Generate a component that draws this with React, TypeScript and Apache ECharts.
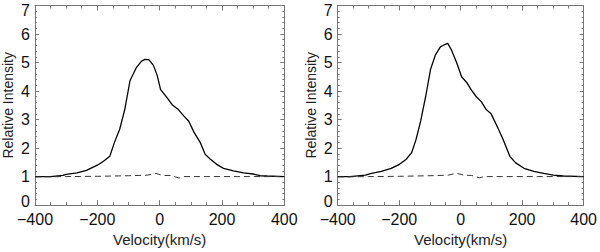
import React, { useEffect, useRef } from "react";
import * as echarts from "echarts";

const xTicks = [-400, -200, 0, 200, 400];
const yTicks = [0, 1, 2, 3, 4, 5, 6, 7];

const leftSolidV = [-400, -350, -310, -300, -265, -235, -200, -180, -160, -145, -128, -112, -95, -75, -58, -47, -35, -20, -8, 3, 20, 40, 60, 78, 93, 110, 130, 146, 162, 183, 205, 237, 269, 301, 323, 345, 400];
const leftSolidI = [1.0, 1.0, 1.04, 1.08, 1.13, 1.22, 1.4, 1.54, 1.71, 2.2, 2.67, 3.35, 4.37, 4.82, 5.05, 5.11, 5.1, 4.9, 4.55, 4.05, 3.82, 3.52, 3.35, 3.12, 2.95, 2.56, 2.2, 1.78, 1.62, 1.43, 1.29, 1.2, 1.13, 1.09, 1.03, 1.02, 1.0];

const leftDashV = [-400, -300, -200, -100, -40, -12, 10, 35, 62, 78, 150, 250, 400];
const leftDashI = [0.99, 1.0, 1.01, 1.03, 1.05, 1.11, 1.04, 1.04, 0.95, 1.0, 1.0, 1.0, 1.0];

const rightSolidV = [-400, -360, -310, -290, -258, -226, -199, -178, -160, -146, -130, -114, -98, -82, -66, -50, -42, -30, -13, 3, 19, 35, 51, 67, 83, 99, 120, 137, 160, 179, 206, 238, 270, 302, 334, 400];
const rightSolidI = [1.0, 1.0, 1.05, 1.11, 1.18, 1.29, 1.43, 1.6, 1.83, 2.27, 2.95, 3.8, 4.76, 5.27, 5.55, 5.64, 5.67, 5.44, 4.99, 4.5, 4.31, 4.03, 3.8, 3.63, 3.35, 3.2, 2.73, 2.33, 1.71, 1.48, 1.29, 1.18, 1.11, 1.05, 1.02, 1.0];

const rightDashV = [-400, -300, -200, -100, -40, -14, 10, 35, 61, 78, 150, 250, 400];
const rightDashI = [0.99, 1.0, 1.01, 1.03, 1.05, 1.12, 1.05, 1.04, 0.96, 1.0, 1.0, 1.0, 1.0];

const xTitle = "Velocity(km/s)";
const yTitle = "Relative Intensity";

const FONT = "Liberation Sans";
const FRAME = "#777";

const zip = (a: number[], b: number[]) => a.map((v, i) => [v, b[i]]);

function makeAxes(gi: number) {
  const xBase = {
    type: "value",
    gridIndex: gi,
    min: xTicks[0],
    max: xTicks[xTicks.length - 1],
    interval: xTicks[1] - xTicks[0],
    splitLine: { show: false },
    axisLine: { show: true, onZero: false, lineStyle: { color: FRAME, width: 1 } },
    axisTick: { show: true, inside: true, length: 5, lineStyle: { color: FRAME } },
    minorTick: { show: true, splitNumber: 4, length: 3, lineStyle: { color: FRAME } },
  };
  const yBase = {
    type: "value",
    gridIndex: gi,
    min: yTicks[0],
    max: yTicks[yTicks.length - 1],
    interval: 1,
    splitLine: { show: false },
    axisLine: { show: true, onZero: false, lineStyle: { color: FRAME, width: 1 } },
    axisTick: { show: true, inside: true, length: 4, lineStyle: { color: FRAME } },
    minorTick: { show: true, splitNumber: 5, length: 2, lineStyle: { color: FRAME } },
  };
  const labelStyle = { fontFamily: FONT, fontSize: 16, color: "#111" };
  const xAxes = [
    {
      ...xBase,
      position: "bottom",
      name: xTitle,
      nameLocation: "middle",
      nameGap: 21,
      nameTextStyle: { fontFamily: FONT, fontSize: 15, color: "#222" },
      axisLabel: {
        show: true,
        margin: 6,
        ...labelStyle,
        formatter: (v: number) => String(v).replace("-", "\u2212"),
      },
    },
    { ...xBase, position: "top", axisLabel: { show: false } },
  ];
  const yAxes = [
    {
      ...yBase,
      position: "left",
      name: yTitle,
      nameLocation: "middle",
      nameGap: 20,
      nameTextStyle: { fontFamily: FONT, fontSize: 14, color: "#222" },
      axisLabel: {
        show: true,
        margin: 5,
        ...labelStyle,
        formatter: (v: number) =>
          v === yTicks[0] ? `{lo|${v}}` : v === yTicks[yTicks.length - 1] ? `{hi|${v}}` : `{n|${v}}`,
        rich: {
          lo: { ...labelStyle, padding: [0, 0, 8, 0] },
          hi: { ...labelStyle, padding: [9, 0, 0, 0] },
          n: { ...labelStyle },
        },
      },
    },
    { ...yBase, position: "right", axisLabel: { show: false } },
  ];
  return { xAxes, yAxes };
}

export default function App() {
  const ref = useRef<HTMLDivElement>(null);
  useEffect(() => {
    if (!ref.current) return;
    const chart = echarts.init(ref.current, null, { renderer: "svg" });
    const a0 = makeAxes(0);
    const a1 = makeAxes(1);
    const solid = { color: "#000", width: 1.3, type: "solid" };
    const dashed = { color: "#333", width: 1, type: [6, 4] };
    chart.setOption({
      animation: false,
      backgroundColor: "#fff",
      grid: [
        { left: 35, top: 5.5, width: 249.3, height: 206.8 },
        { left: 337.7, top: 5.5, width: 250, height: 206.8 },
      ],
      xAxis: [...a0.xAxes, ...a1.xAxes],
      yAxis: [...a0.yAxes, ...a1.yAxes],
      series: [
        { type: "line", xAxisIndex: 0, yAxisIndex: 0, data: zip(leftSolidV, leftSolidI), showSymbol: false, lineStyle: solid },
        { type: "line", xAxisIndex: 0, yAxisIndex: 0, data: zip(leftDashV, leftDashI), showSymbol: false, lineStyle: dashed },
        { type: "line", xAxisIndex: 2, yAxisIndex: 2, data: zip(rightSolidV, rightSolidI), showSymbol: false, lineStyle: solid },
        { type: "line", xAxisIndex: 2, yAxisIndex: 2, data: zip(rightDashV, rightDashI), showSymbol: false, lineStyle: dashed },
      ],
    });
    return () => chart.dispose();
  }, []);
  return <div ref={ref} style={{ width: 600, height: 252, position: "absolute", left: 0, top: 0 }} />;
}
